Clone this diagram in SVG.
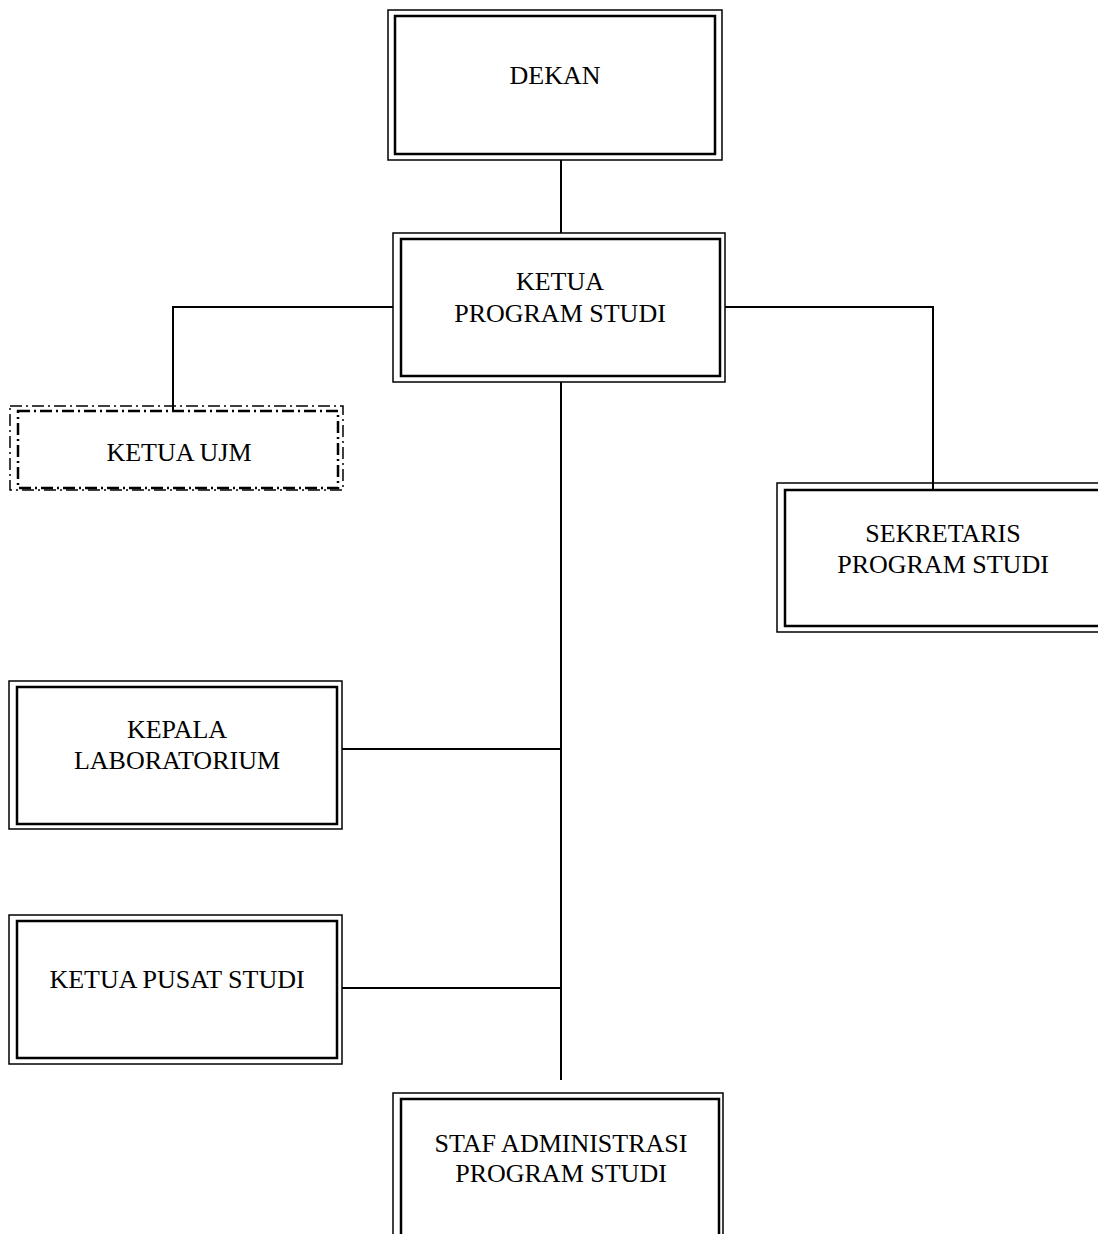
<svg xmlns="http://www.w3.org/2000/svg" width="1098" height="1234" viewBox="0 0 1098 1234">
  <style>
    .outer { fill: none; stroke: #000; stroke-width: 1.5; }
    .inner { fill: none; stroke: #000; stroke-width: 2.5; }
    .dash-outer { fill: none; stroke: #000; stroke-width: 1.5; stroke-dasharray: 12 4 2 4; }
    .dash-inner { fill: none; stroke: #000; stroke-width: 2.5; stroke-dasharray: 12 4 2 4; }
    .link { fill: none; stroke: #000; stroke-width: 2; }
    text { font-family: "Liberation Serif", "Times New Roman", serif; font-size: 26px; fill: #000; text-anchor: middle; }
  </style>
  <rect width="1098" height="1234" fill="#fff"/>

  <!-- connectors -->
  <g id="connectors">
    <line class="link" x1="561" y1="160" x2="561" y2="233"/>
    <polyline class="link" points="393,307 173,307 173,412"/>
    <polyline class="link" points="725,307 933,307 933,490"/>
    <line class="link" x1="561" y1="382" x2="561" y2="1080"/>
    <line class="link" x1="342" y1="749" x2="561" y2="749"/>
    <line class="link" x1="342" y1="988" x2="561" y2="988"/>
  </g>

  <g id="dekan">
    <rect class="outer" x="388" y="10" width="334" height="150"/>
    <rect class="inner" x="395" y="16" width="320" height="138"/>
    <text x="555" y="84">DEKAN</text>
  </g>

  <g id="ketua-prodi">
    <rect class="outer" x="393" y="233" width="332" height="149"/>
    <rect class="inner" x="401" y="239" width="319" height="137"/>
    <text x="560" y="290">KETUA</text>
    <text x="560" y="322">PROGRAM STUDI</text>
  </g>

  <g id="ketua-ujm">
    <rect class="dash-outer" x="10" y="406" width="333" height="84"/>
    <rect class="dash-inner" x="18" y="411" width="320" height="77"/>
    <text x="179" y="461">KETUA UJM</text>
  </g>

  <g id="sekretaris">
    <rect class="outer" x="777" y="483" width="336" height="149"/>
    <rect class="inner" x="785" y="490" width="322" height="136"/>
    <text x="943" y="542">SEKRETARIS</text>
    <text x="943" y="573">PROGRAM STUDI</text>
  </g>

  <g id="kepala-lab">
    <rect class="outer" x="9" y="681" width="333" height="148"/>
    <rect class="inner" x="17" y="687" width="320" height="137"/>
    <text x="177" y="738">KEPALA</text>
    <text x="177" y="769">LABORATORIUM</text>
  </g>

  <g id="ketua-pusat-studi">
    <rect class="outer" x="9" y="915" width="333" height="149"/>
    <rect class="inner" x="17" y="921" width="320" height="137"/>
    <text x="177" y="988">KETUA PUSAT STUDI</text>
  </g>

  <g id="staf-admin">
    <rect class="outer" x="393" y="1093" width="330" height="160"/>
    <rect class="inner" x="401" y="1099" width="318" height="150"/>
    <text x="561" y="1152">STAF ADMINISTRASI</text>
    <text x="561" y="1182">PROGRAM STUDI</text>
  </g>
</svg>
